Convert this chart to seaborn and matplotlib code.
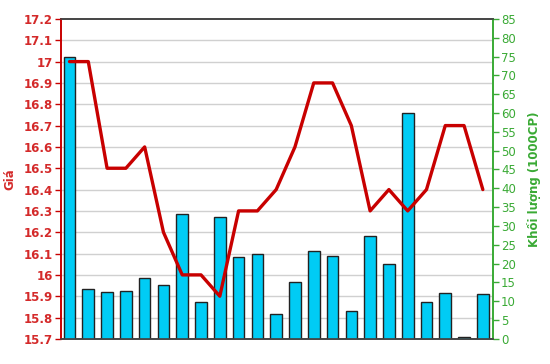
import matplotlib
matplotlib.use("Agg")
import matplotlib.pyplot as plt
import seaborn as sns
import numpy as np
import pandas as pd
from matplotlib.ticker import MultipleLocator, FixedLocator, FuncFormatter

sessions = list(range(1, 24))
prices = [17.0, 17.0, 16.5, 16.5, 16.6, 16.2, 16.0, 16.0, 15.9, 16.3, 16.3, 16.4,
          16.6, 16.9, 16.9, 16.7, 16.3, 16.4, 16.3, 16.4, 16.7, 16.7, 16.4]
volumes = [75.0, 13.3, 12.4, 12.7, 16.3, 14.2, 33.3, 9.7, 32.5, 21.8, 22.6, 6.6,
           15.1, 23.3, 22.1, 7.3, 27.4, 19.9, 59.9, 9.7, 12.1, 0.4, 11.9]

df = pd.DataFrame({"session": sessions, "price": prices, "volume": volumes})
df["pos"] = np.arange(len(df))

sns.set_theme(style="white")
plt.rcParams["font.family"] = ["DejaVu Sans"]

RED = "#C80000"
RED_T = "#D42a2a"
GREEN = "#3AAA35"
CYAN = "#00CCF5"

fig = plt.figure(figsize=(5.5, 3.64), dpi=100)
ax = fig.add_axes([0.111, 0.069, 0.785, 0.879])
ax2 = ax.twinx()

# bars on volume axis (below), line on price axis (above)
ax.set_zorder(2)
ax2.set_zorder(1)
ax.patch.set_visible(False)

sns.barplot(data=df, x="pos", y="volume", ax=ax2, color=CYAN, width=0.62,
            edgecolor="#222222", linewidth=1.0, saturation=1, zorder=3)
sns.lineplot(data=df, x="pos", y="price", ax=ax, color=RED, linewidth=2.4, zorder=4)

pmin, pmax = 15.7, 17.2
vmin, vmax = 0, 85
ax.set_ylim(pmin, pmax)
ax2.set_ylim(vmin, vmax)
ax.set_xlim(-0.45, len(df) - 0.47)

ptick = np.round(np.arange(pmin, pmax + 1e-9, 0.1), 1)
ax.yaxis.set_major_locator(FixedLocator(ptick))
ax.yaxis.set_major_formatter(FuncFormatter(lambda v, p: "%g" % round(v, 1)))
ax2.yaxis.set_major_locator(MultipleLocator(5))

# gridlines at price ticks, drawn on the lower (volume) axis so they stay behind bars
gpos = (ptick - pmin) / (pmax - pmin) * (vmax - vmin) + vmin
ax2.yaxis.set_minor_locator(FixedLocator(gpos))
ax2.grid(which="minor", axis="y", color="#D0D0D0", linewidth=1.0, zorder=0)
ax2.grid(which="major", visible=False)
ax.grid(False)
ax2.set_axisbelow(True)
ax2.tick_params(axis="y", which="minor", length=0)

ax.tick_params(axis="y", colors=RED, labelcolor=RED_T, length=4, width=1, direction="out", left=True,
               labelsize=8.5, pad=2)
for lab in ax.get_yticklabels():
    lab.set_fontweight("bold")
ax2.tick_params(axis="y", which="major", colors=GREEN, labelcolor=GREEN, length=4, width=1,
                direction="out", right=True, labelsize=8.5, pad=2)

ax.set_xticks([])
ax2.set_xticks([])
ax.set_xlabel("")
ax2.set_xlabel("")

ax.set_ylabel("Giá", color=RED_T, fontsize=8.5, fontweight="bold", labelpad=5)
ax2.set_ylabel("Khối lượng (1000CP)", color=GREEN, fontsize=8.5, fontweight="bold", labelpad=8)

for a in (ax, ax2):
    a.spines["top"].set_color("#444444")
    a.spines["bottom"].set_color("#444444")
    a.spines["left"].set_color(RED)
    a.spines["right"].set_color(GREEN)
    for s in a.spines.values():
        s.set_linewidth(1.2)

fig.savefig("out.png", dpi=100, facecolor="white")
